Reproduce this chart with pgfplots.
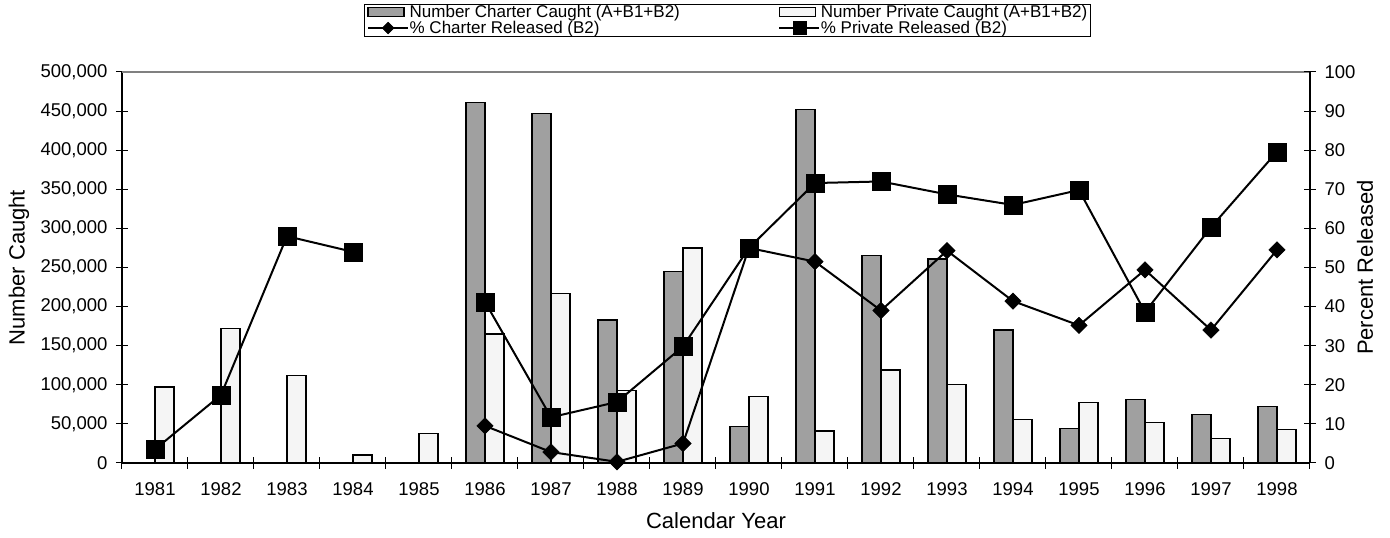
\documentclass[border=0pt]{standalone}
\usepackage{pgfplots}
\pgfplotsset{compat=1.18}
\usepackage{pgfplotstable}
\usepackage{fontspec}
\setmainfont{Liberation Sans}

\pgfplotstableread{
x val
5 461000
6 447000
7 183000
8 245000
9 47000
10 452000
11 265000
12 261000
13 170000
14 44000
15 81000
16 62000
17 72000
}\charter
\pgfplotstableread{
x val
0 97000
1 172000
2 112000
3 10000
4 38000
5 165000
6 217000
7 93000
8 275000
9 85000
10 41000
11 119000
12 100000
13 56000
14 77000
15 52000
16 31000
17 43000
}\private
\pgfplotstableread{
x val
5 9.5
6 2.8
7 0.3
8 5.0
9 55.0
10 51.5
11 39.0
12 54.3
13 41.4
14 35.2
15 49.4
16 34.0
17 54.5
}\charterpct
\pgfplotstableread{
x val
0 3.5
1 17.4
2 58.0
3 54.0
4 nan
5 41.2
6 11.7
7 15.6
8 29.8
9 55.0
10 71.6
11 72.0
12 68.7
13 66.0
14 69.8
15 38.6
16 60.3
17 79.6
}\privatepct

\definecolor{charterfill}{RGB}{160,160,160}
\definecolor{privatefill}{RGB}{245,245,245}

\newcommand{\lgf}{\fontsize{17pt}{17pt}\selectfont}

\pgfplotsset{
  barlegend/.style={legend image code/.code={\draw[##1] (0pt,-4pt) rectangle (36pt,5pt);}},
  linelegend/.style={legend image code/.code={\draw[##1, mark repeat=2, mark phase=2, every mark/.append style={scale=0.72}] plot coordinates {(0pt,0pt) (20pt,0pt) (40pt,0pt)};}},
  common/.style={
    at={(0pt,0pt)}, anchor=south west,
    scale only axis, width=1188pt, height=391pt,
    xmin=-0.5, xmax=17.5,
    tick align=center,
    major tick length=12pt,
    minor tick length=12pt,
    every tick/.style={black, line width=1pt},
    minor tick style={black, line width=1pt},
    axis line style={black, line width=1.4pt},
    /pgf/number format/assume math mode=true,
    tick label style={font=\fontsize{18.5pt}{20pt}\selectfont},
    label style={font=\fontsize{22pt}{24pt}\selectfont},
  },
}

\begin{document}
\begin{tikzpicture}
\useasboundingbox (-122pt,-75pt) rectangle (1268pt,463pt);
\begin{axis}[
  common,
  ymin=0, ymax=500000,
  axis x line*=bottom, axis y line*=left,
  xtick={0,...,17},
  xticklabels={1981,1982,1983,1984,1985,1986,1987,1988,1989,1990,1991,1992,1993,1994,1995,1996,1997,1998},
  major x tick style={draw=none},
  minor xtick={-0.5,0.5,...,17.5},
  xticklabel style={yshift=-10pt},
  ytick={0,50000,...,500000},
  scaled y ticks=false,
  yticklabel style={/pgf/number format/.cd, fixed, 1000 sep={,}, assume math mode=true, /tikz/.cd, xshift=-5pt},
  xlabel={Calendar Year},
  xlabel style={at={(axis description cs:0.5,-0.148)}, anchor=center},
  ylabel={Number Caught},
  ylabel style={at={(axis description cs:-0.0867,0.5)}, anchor=center},
  clip=false,
]
\draw[gray, line width=1.5pt] (rel axis cs:0,1) -- (rel axis cs:1,1);
\addplot[ybar, bar width=19pt, bar shift=-9.5pt, fill=charterfill, draw=black, line width=1.4pt] table[x=x, y=val] {\charter};
\addplot[ybar, bar width=19pt, bar shift=9.5pt, fill=privatefill, draw=black, line width=1.4pt] table[x=x, y=val] {\private};
\end{axis}
\begin{axis}[
  common,
  ymin=0, ymax=100,
  axis y line*=right, axis x line=none,
  ytick={0,10,...,100},
  yticklabel style={xshift=5pt},
  ylabel={Percent Released},
  ylabel style={at={(axis description cs:1.0463,0.5)}, anchor=center},
  unbounded coords=jump,
  clip=false,
  legend columns=2,
  legend cell align=left,
  legend style={at={(axis description cs:0.5097,1.1745)}, anchor=north,
    draw=black, line width=1pt, inner xsep=3pt, inner ysep=0.5pt,
    row sep=0pt,
    nodes={inner sep=0.5pt, text height=12.5pt, text depth=2pt},
    /tikz/every even column/.append style={column sep=98pt}},
]
\addlegendimage{barlegend, fill=charterfill, draw=black, line width=1.4pt}
\addlegendentry{\lgf Number Charter Caught (A+B1+B2)}
\addlegendimage{barlegend, fill=privatefill, draw=black, line width=1.4pt}
\addlegendentry{\lgf Number Private Caught (A+B1+B2)}
\addplot[linelegend, black, line width=2pt, mark=square*, mark size=5.8pt, mark options={rotate=45, fill=black, line width=0.5pt}]
  table[x=x, y=val] {\charterpct};
\addlegendentry{\lgf \% Charter Released (B2)}
\addplot[linelegend, black, line width=2pt, mark=square*, mark size=9pt, mark options={fill=black, line width=0.5pt}]
  table[x=x, y=val] {\privatepct};
\addlegendentry{\lgf \% Private Released (B2)}
\end{axis}
\end{tikzpicture}
\end{document}
